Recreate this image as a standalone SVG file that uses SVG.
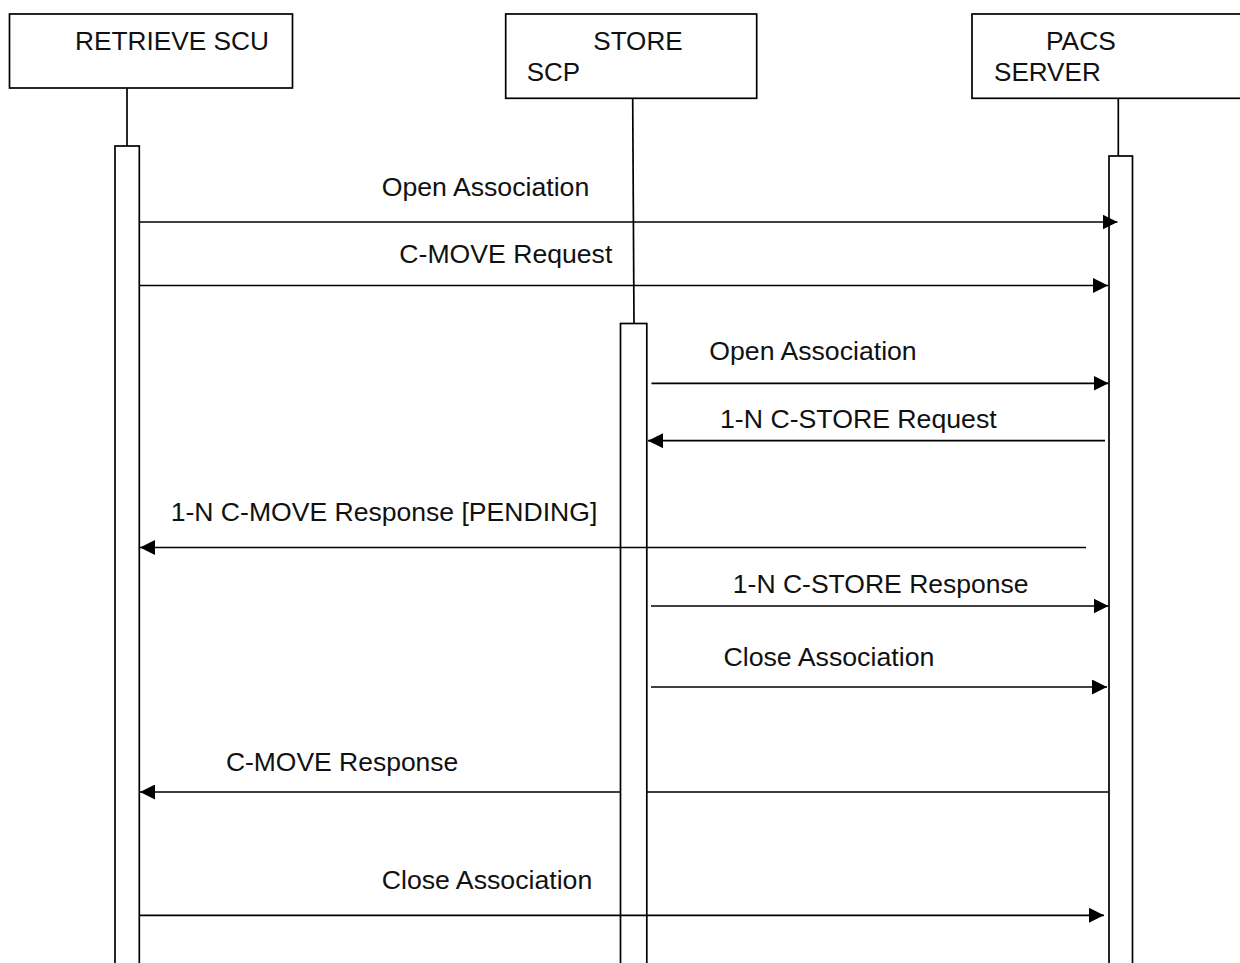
<svg xmlns="http://www.w3.org/2000/svg" width="1240" height="963" viewBox="0 0 1240 963">
<style>
  .box{fill:#fff;stroke:#000;stroke-width:1.7}
  .act{fill:#fff;stroke:#000;stroke-width:1.7}
  .life{fill:none;stroke:#000;stroke-width:1.7}
  .msg{fill:none;stroke:#000;stroke-width:1.7;marker-end:url(#ah)}
  text{font-family:"Liberation Sans",Arial,sans-serif;font-size:25px;fill:#111}
</style>
<defs>
  <marker id="ah" markerUnits="userSpaceOnUse" markerWidth="15" markerHeight="15" refX="15" refY="7.5" orient="auto">
    <path d="M0,0 L15,7.5 L0,15 z" fill="#000"/>
  </marker>
</defs>
<rect width="1240" height="963" fill="#fff"/>
<g id="retrieve-scu">
  <rect class="box" x="9.5" y="14" width="283" height="74"/>
  <text x="75" y="50" textLength="194" lengthAdjust="spacingAndGlyphs">RETRIEVE SCU</text>
  <line class="life" x1="127" y1="88" x2="127" y2="146"/>
  <rect class="act" x="115" y="146" width="24.3" height="830"/>
</g>
<g id="store-scp">
  <rect class="box" x="505.7" y="14" width="251" height="84.3"/>
  <text x="593.3" y="50" textLength="89.3" lengthAdjust="spacingAndGlyphs">STORE</text>
  <text x="526.7" y="80.7" textLength="53.3" lengthAdjust="spacingAndGlyphs">SCP</text>
  <line class="life" x1="632.7" y1="98.3" x2="634" y2="323.5"/>
  <rect class="act" x="620.5" y="323.5" width="26.3" height="650"/>
</g>
<g id="pacs-server">
  <rect class="box" x="972" y="14" width="290" height="84.3"/>
  <text x="1046" y="50" textLength="69.7" lengthAdjust="spacingAndGlyphs">PACS</text>
  <text x="994" y="80.7" textLength="106.7" lengthAdjust="spacingAndGlyphs">SERVER</text>
  <line class="life" x1="1118.3" y1="98.3" x2="1118.3" y2="156"/>
  <rect class="act" x="1109" y="156" width="23.5" height="820"/>
</g>
<g id="connectors">
  <path class="msg" d="M140,222 H1117.5"/>
  <path class="msg" d="M140,285.5 H1108"/>
  <path class="msg" d="M651.5,383.3 H1108.5"/>
  <path class="msg" d="M1105,440.7 H648"/>
  <path class="msg" d="M1086,547.5 H140"/>
  <path class="msg" d="M651,606 H1108.5"/>
  <path class="msg" d="M651,687 H1107"/>
  <path class="msg" d="M1108.5,792 H647 M621,792 H140"/>
  <path class="msg" d="M140,915.3 H1104"/>
</g>
<g id="labels">
  <text x="381.7" y="196" textLength="207.6" lengthAdjust="spacingAndGlyphs">Open Association</text>
  <text x="399.3" y="262.7" textLength="213" lengthAdjust="spacingAndGlyphs">C-MOVE Request</text>
  <text x="709.3" y="360" textLength="207.4" lengthAdjust="spacingAndGlyphs">Open Association</text>
  <text x="720" y="428.3" textLength="276.7" lengthAdjust="spacingAndGlyphs">1-N C-STORE Request</text>
  <text x="170.7" y="521" textLength="426.6" lengthAdjust="spacingAndGlyphs">1-N C-MOVE Response [PENDING]</text>
  <text x="732.8" y="592.5" textLength="295.8" lengthAdjust="spacingAndGlyphs">1-N C-STORE Response</text>
  <text x="723.4" y="666" textLength="211" lengthAdjust="spacingAndGlyphs">Close Association</text>
  <text x="225.9" y="771" textLength="232.4" lengthAdjust="spacingAndGlyphs">C-MOVE Response</text>
  <text x="381.7" y="889.3" textLength="210.6" lengthAdjust="spacingAndGlyphs">Close Association</text>
</g>
</svg>
